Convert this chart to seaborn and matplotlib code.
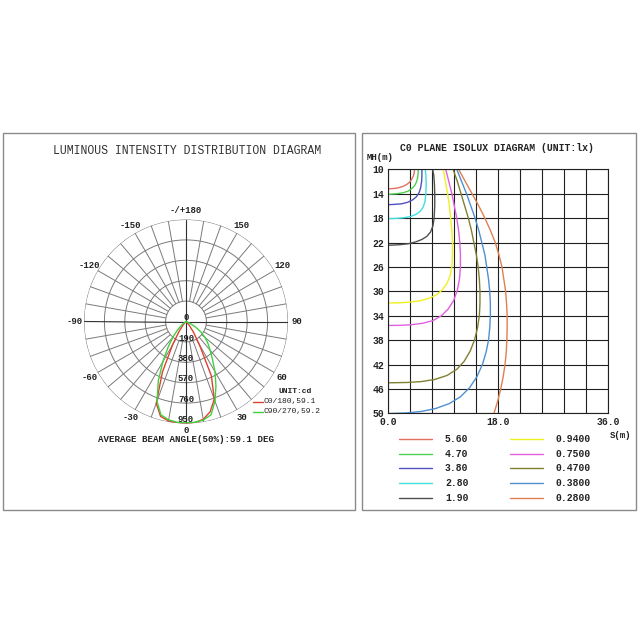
import numpy as np
import pandas as pd
import matplotlib
matplotlib.use("Agg")
import matplotlib.pyplot as plt
from matplotlib.patches import Rectangle
from matplotlib.lines import Line2D
import seaborn as sns

# ── Polar intensity data (cd), gamma angles 0..90 ────────────────────────────
GAMMA = [0, 5, 10, 15, 20, 25, 30, 35, 40, 45, 50, 55, 60, 65, 70, 75, 80, 85, 90]
C0_CD   = [950, 945, 925, 870, 770, 560, 250, 120, 50, 15, 3, 0, 0, 0, 0, 0, 0, 0, 0]
C180_CD = [950, 950, 940, 915, 810, 520, 250, 110, 40, 10, 0, 0, 0, 0, 0, 0, 0, 0, 0]
C90_CD  = [945, 942, 932, 900, 790, 660, 540, 430, 350, 290, 230, 170, 100, 40, 10, 0, 0, 0, 0]
C270_CD = [945, 942, 930, 900, 790, 610, 430, 290, 190, 110, 50, 15, 0, 0, 0, 0, 0, 0, 0]
RINGS = [190, 380, 570, 760, 950]
ANGLE_TICKS = [0, 30, 60, 90, 120, 150, 180, -150, -120, -90, -60, -30]
C_LEGEND = ["C0/180,59.1", "C90/270,59.2"]

# ── Isolux data: S (m) and MH (m) per level ──────────────────────────────────
ISO_LABELS = ["5.60", "4.70", "3.80", "2.80", "1.90",
              "0.9400", "0.7500", "0.4700", "0.3800", "0.2800"]
ISO_S = [
    [4.3, 4.25, 4.1, 3.85, 3.5, 3.0, 2.4, 1.6, 0.8, 0.0],
    [4.9, 4.88, 4.8, 4.6, 4.3, 3.8, 3.2, 2.4, 1.4, 0.0],
    [5.5, 5.5, 5.45, 5.3, 5.05, 4.6, 4.0, 3.2, 2.2, 1.0, 0.0],
    [6.05, 6.15, 6.2, 6.15, 6.0, 5.7, 5.2, 4.5, 3.6, 2.5, 1.2, 0.0],
    [7.25, 7.45, 7.55, 7.6, 7.6, 7.5, 7.3, 6.9, 6.3, 5.5, 4.5, 3.3, 2.0, 0.8, 0.0],
    [9.0, 9.35, 9.7, 10.0, 10.2, 10.4, 10.5, 10.5, 10.4, 10.1, 9.6, 8.9, 8.0,
     6.8, 5.4, 3.8, 2.0, 0.0],
    [9.4, 9.9, 10.4, 10.8, 11.2, 11.5, 11.7, 11.8, 11.8, 11.65, 11.3, 10.7, 9.8,
     8.7, 7.3, 5.6, 3.6, 1.8, 0.0],
    [10.6, 11.3, 11.9, 12.5, 13.1, 13.6, 14.0, 14.4, 14.7, 14.9, 15.0, 15.0, 14.9,
     14.6, 14.1, 13.4, 12.4, 11.2, 9.6, 7.6, 5.4, 3.0, 0.0],
    [11.2, 12.0, 12.8, 13.5, 14.2, 14.8, 15.3, 15.8, 16.1, 16.4, 16.6, 16.7, 16.7,
     16.6, 16.4, 16.0, 15.4, 14.5, 13.3, 11.8, 10.0, 7.8, 5.4, 2.8, 0.0],
    [11.5, 12.6, 13.7, 14.8, 15.8, 16.7, 17.5, 18.1, 18.6, 18.9, 19.2, 19.35, 19.45,
     19.45, 19.4, 19.3, 19.1, 18.8, 18.4, 17.9, 17.3],
]
ISO_MH = [
    [10.0, 10.5, 11.1, 11.6, 12.1, 12.5, 12.8, 13.05, 13.15, 13.2],
    [10.0, 10.7, 11.4, 12.1, 12.7, 13.2, 13.6, 13.85, 14.0, 14.1],
    [10.0, 11.0, 12.0, 13.0, 13.8, 14.5, 15.0, 15.4, 15.65, 15.75, 15.8],
    [10.0, 11.0, 12.5, 14.0, 15.3, 16.2, 16.9, 17.4, 17.75, 17.95, 18.05, 18.1],
    [10.0, 11.0, 12.5, 14.0, 16.0, 18.0, 19.3, 20.3, 21.0, 21.5, 21.9, 22.2, 22.35,
     22.42, 22.45],
    [10.0, 12.0, 14.0, 16.0, 18.0, 20.0, 22.0, 24.0, 26.0, 27.5, 28.7, 29.7, 30.5,
     31.1, 31.5, 31.75, 31.88, 31.92],
    [10.0, 12.0, 14.0, 16.0, 18.0, 20.0, 22.0, 24.0, 26.0, 28.0, 29.8, 31.5, 32.9,
     34.0, 34.8, 35.25, 35.5, 35.58, 35.6],
    [10.0, 12.0, 14.0, 16.0, 18.0, 20.0, 22.0, 24.0, 26.0, 28.0, 30.0, 32.0, 34.0,
     36.0, 38.0, 39.8, 41.5, 42.8, 43.8, 44.45, 44.8, 44.95, 45.0],
    [10.0, 12.0, 14.0, 16.0, 18.0, 20.0, 22.0, 24.0, 26.0, 28.0, 30.0, 32.0, 34.0,
     36.0, 38.0, 40.0, 42.0, 44.0, 45.8, 47.3, 48.4, 49.2, 49.7, 49.95, 50.05],
    [10.0, 12.0, 14.0, 16.0, 18.0, 20.0, 22.0, 24.0, 26.0, 28.0, 30.0, 32.0, 34.0,
     36.0, 38.0, 40.0, 42.0, 44.0, 46.0, 48.0, 50.0],
]
MH_TICKS = [10, 14, 18, 22, 26, 30, 34, 38, 42, 46, 50]
S_TICKS = [0.0, 3.6, 7.2, 10.8, 14.4, 18.0, 21.6, 25.2, 28.8, 32.4, 36.0]
S_TICK_LABELS = ["0.0", "", "", "", "", "18.0", "", "", "", "", "36.0"]

ISO_COLORS = ["#e07060", "#50d050", "#5050c0", "#40e0e0", "#505050",
              "#f0f020", "#e060e0", "#808030", "#5090d0", "#e08050"]
RED = "#e04030"
GREEN = "#40d040"
MONO = "Liberation Mono"

sns.set_style("white")
plt.rcParams["font.family"] = [MONO, "DejaVu Sans Mono"]

W = H = 640.0
def fx(px):
    return px / W
def fy(py):
    return 1 - py / H

fig = plt.figure(figsize=(6.4, 6.4), dpi=100)
fig.patch.set_facecolor("white")

# panel frames
for x0, y0, x1, y1 in [(3, 132.5, 355, 510), (361.5, 132.5, 636, 509.5)]:
    fig.add_artist(Rectangle((fx(x0), fy(y1)), fx(x1) - fx(x0), fy(y0) - fy(y1),
                             transform=fig.transFigure, fill=False,
                             edgecolor="#8a8a8a", linewidth=1.0))

# ── Left: polar intensity diagram ────────────────────────────────────────────
cx, cy, rad = 186, 321.5, 102
axp = fig.add_axes([fx(cx - rad), fy(cy + rad), 2 * rad / W, 2 * rad / H],
                   projection="polar")
axp.set_theta_zero_location("S")
axp.set_rlim(0, 950)
axp.grid(False)
axp.set_xticks([])
axp.set_yticks([])
axp.spines["polar"].set_visible(False)
axp.patch.set_alpha(0)

th = np.linspace(0, 2 * np.pi, 361)
for r in RINGS:
    axp.plot(th, np.full_like(th, r), color="#7a7a7a", lw=0.7)
for d in range(0, 360, 10):
    t = np.deg2rad(d)
    if d % 90 == 0:
        axp.plot([t, t], [0, 950], color="#303030", lw=0.8)
    else:
        axp.plot([t, t], [190, 950], color="#7a7a7a", lw=0.7)

def loop_df(left_vals, right_vals):
    g = np.array(GAMMA, dtype=float)
    theta = np.concatenate([-g[::-1], g[1:]])
    cd = np.concatenate([np.array(left_vals)[::-1], np.array(right_vals)[1:]])
    return pd.DataFrame({"theta": np.deg2rad(theta), "cd": cd})

sns.lineplot(data=loop_df(C180_CD, C0_CD), x="theta", y="cd", sort=False,
             estimator=None, color=RED, lw=1.0, ax=axp)
sns.lineplot(data=loop_df(C270_CD, C90_CD), x="theta", y="cd", sort=False,
             estimator=None, color=GREEN, lw=1.0, ax=axp)
axp.set_xlabel("")
axp.set_ylabel("")

for d in ANGLE_TICKS:
    lab = "-/+180" if d == 180 else str(d)
    rr = 1012 if d == 0 else 1035
    axp.text(np.deg2rad(d), rr, lab, ha="center", va="center",
             fontsize=6.5, fontweight="bold", color="#222222", clip_on=False)
for r in RINGS:
    axp.text(0, r - 35, str(r), ha="center", va="center", fontsize=6.5,
             fontweight="bold", color="#222222")
axp.text(np.pi, 40, "0", ha="center", va="center", fontsize=6.5,
         fontweight="bold", color="#222222")

fig.text(fx(187), fy(151), "LUMINOUS INTENSITY DISTRIBUTION DIAGRAM",
         ha="center", va="center", fontsize=8.3, color="#333333")
fig.text(fx(295), fy(391.5), "UNIT:cd", ha="center", va="center",
         fontsize=5.8, fontweight="bold", color="#222222")
for i, (lab, col) in enumerate(zip(C_LEGEND, [RED, GREEN])):
    yy = 402 + i * 9.7
    fig.add_artist(Line2D([fx(253), fx(262.5)], [fy(yy), fy(yy)],
                          transform=fig.transFigure, color=col, lw=1.0))
    fig.text(fx(263.5), fy(yy), lab, ha="left", va="center",
             fontsize=5.8, color="#222222")
fig.text(fx(186), fy(439), "AVERAGE BEAM ANGLE(50%):59.1 DEG",
         ha="center", va="center", fontsize=6.6, fontweight="bold",
         color="#222222")

# ── Right: isolux diagram ────────────────────────────────────────────────────
axi = fig.add_axes([fx(388.3), fy(413.3), 220 / W, 244 / H])
for xs, ys, col in zip(ISO_S, ISO_MH, ISO_COLORS):
    sns.lineplot(x=xs, y=ys, sort=False, estimator=None, color=col,
                 lw=1.0, ax=axi)
axi.set_xlim(0, 36)
axi.set_ylim(50, 10)
axi.set_xticks(S_TICKS)
axi.set_xticklabels(S_TICK_LABELS)
axi.set_yticks(MH_TICKS)
axi.set_yticklabels([str(v) for v in MH_TICKS])
axi.grid(True, color="#202020", lw=0.8)
axi.set_axisbelow(True)
axi.tick_params(length=0, labelsize=7, pad=3, labelcolor="#222222")
for lab in axi.get_xticklabels() + axi.get_yticklabels():
    lab.set_fontweight("bold")
for s in axi.spines.values():
    s.set_color("#202020")
    s.set_linewidth(0.8)
axi.set_xlabel("")
axi.set_ylabel("")

fig.text(fx(497), fy(148), "C0 PLANE ISOLUX DIAGRAM (UNIT:lx)", ha="center",
         va="center", fontsize=7, fontweight="bold", color="#222222")
fig.text(fx(380), fy(158), "MH(m)", ha="center", va="center", fontsize=6.5,
         fontweight="bold", color="#222222")
fig.text(fx(621), fy(435), "S(m)", ha="center", va="center", fontsize=6.5,
         fontweight="bold", color="#222222")

for i, (lab, col) in enumerate(zip(ISO_LABELS, ISO_COLORS)):
    colx = 0 if i < 5 else 1
    yy = 439 + (i % 5) * 14.7
    x0 = 399 + colx * 111
    fig.add_artist(Line2D([fx(x0), fx(x0 + 33)], [fy(yy), fy(yy)],
                          transform=fig.transFigure, color=col, lw=1.0))
    fig.text(fx(x0 + 46), fy(yy), lab, ha="left", va="center", fontsize=7,
             fontweight="bold", color="#222222")

fig.savefig("out.png", dpi=100, facecolor="white")
